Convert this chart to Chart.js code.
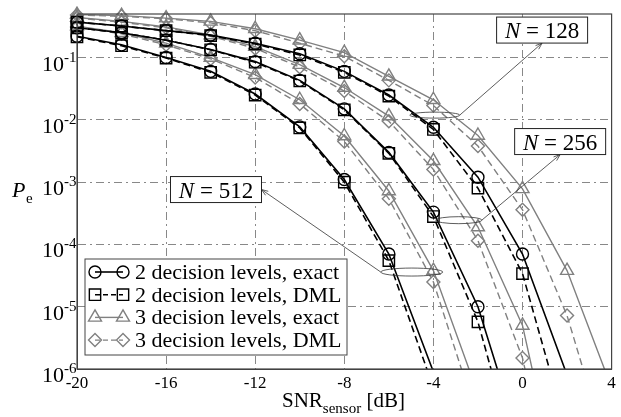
<!DOCTYPE html>
<html>
<head>
<meta charset="utf-8">
<script src="https://cdn.jsdelivr.net/npm/chart.js@4/dist/chart.umd.min.js"></script>
<style>
  html, body { margin: 0; padding: 0; background: #fff; }
  #wrap { width: 621px; height: 417px; }
</style>
</head>
<body>
<div id="wrap"><canvas id="chart" width="621" height="417"></canvas></div>
<script>
// x values (dB) where the curves were sampled
const snr = [-20, -18, -16, -14, -12, -10, -8, -6, -4, -2, 0, 2, 4];
const xTicks = [-20, -16, -12, -8, -4, 0, 4];
const xTickLabels = ['-20', '-16', '-12', '-8', '-4', '0', '4'];
const yTicks = [1e-1, 1e-2, 1e-3, 1e-4, 1e-5, 1e-6];
const yTickExps = ['-1', '-2', '-3', '-4', '-5', '-6'];
const legendLabels = [
  '2 decision levels, exact',
  '2 decision levels, DML',
  '3 decision levels, exact',
  '3 decision levels, DML'
];

// N = 512
const exact2N512 = [0.22, 0.16, 0.10, 0.06, 0.026, 0.0077, 0.0011, 7e-5, 9e-7];
const dml2N512 = [0.215, 0.155, 0.098, 0.058, 0.025, 0.0074, 0.001, 5.5e-5, 5e-7];
const exact3N512 = [0.32, 0.25, 0.17, 0.10, 0.053, 0.021, 0.0055, 7.2e-4, 3.8e-5, 4e-7];
const dml3N512 = [0.31, 0.24, 0.16, 0.095, 0.048, 0.018, 0.0045, 5.4e-4, 2.5e-5, 1.5e-7];
// N = 256
const exact2N256 = [0.30, 0.25, 0.19, 0.135, 0.086, 0.043, 0.015, 0.003, 3.3e-4, 1e-5, 5e-8];
const dml2N256 = [0.30, 0.25, 0.19, 0.133, 0.084, 0.042, 0.0145, 0.0029, 2.8e-4, 5.7e-6, 1.5e-8];
const exact3N256 = [0.44, 0.38, 0.31, 0.23, 0.15, 0.077, 0.033, 0.0115, 0.0022, 1.9e-4, 5e-6, 3e-9];
const dml3N256 = [0.43, 0.37, 0.30, 0.22, 0.14, 0.07, 0.029, 0.0095, 0.0016, 1.15e-4, 1.5e-6, 1e-9];
// N = 128
const exact2N128 = [0.37, 0.32, 0.27, 0.23, 0.17, 0.115, 0.06, 0.025, 0.0076, 0.0012, 7e-5, 8e-7];
const dml2N128 = [0.37, 0.32, 0.27, 0.225, 0.165, 0.11, 0.058, 0.024, 0.007, 8e-4, 3.4e-5, 1e-7];
const exact3N128 = [0.49, 0.47, 0.43, 0.38, 0.29, 0.19, 0.12, 0.05, 0.021, 0.0056, 7.8e-4, 3.8e-5, 5e-7];
const dml3N128 = [0.48, 0.46, 0.42, 0.36, 0.27, 0.17, 0.105, 0.043, 0.017, 0.0038, 3.6e-4, 7.2e-6, 3e-8];

const GRAY = '#808080';
const kinds = [
  { color: '#000', width: 1.6, dash: [], style: 'circle', r: 6 },
  { color: '#000', width: 1.6, dash: [7, 4], style: 'rect', r: 8 },
  { color: GRAY, width: 1.4, dash: [], style: 'triangle', r: 7.5 },
  { color: GRAY, width: 1.4, dash: [7, 4], style: 'rectRot', r: 6.5 }
];

// black curves first so they end up on top
const series = [
  [exact2N512, 0], [dml2N512, 1], [exact2N256, 0], [dml2N256, 1], [exact2N128, 0], [dml2N128, 1],
  [exact3N512, 2], [dml3N512, 3], [exact3N256, 2], [dml3N256, 3], [exact3N128, 2], [dml3N128, 3]
];

// callouts: ellipse centre in data units, box centre in data units
const notes = [
  { label: '128', ell: [-3.94, 0.0119], rx: 25, ry: 3, box: [0.88, 0.276], from: 'right', to: 'bottom' },
  { label: '256', ell: [-2.86, 2.45e-4], rx: 23, ry: 3.5, box: [1.69, 4.48e-3], from: 'right', to: 'bottom' },
  { label: '512', ell: [-4.97, 3.6e-5], rx: 31, ry: 4, box: [-13.76, 7.6e-4], from: 'left', to: 'right' }
];

const SERIF = '"Liberation Serif", "Times New Roman", serif';
const GRID_DASH = [8, 4, 2, 4];

function marker(ctx, k, x, y) {
  ctx.save();
  ctx.strokeStyle = k.color;
  ctx.fillStyle = 'rgba(0,0,0,0)';
  ctx.lineWidth = 1.4;
  ctx.setLineDash([]);
  Chart.helpers.drawPoint(ctx, { pointStyle: k.style, radius: k.r, rotation: 0, borderWidth: 1.4 }, x, y);
  ctx.restore();
}

function arrow(ctx, x1, y1, x2, y2) {
  ctx.beginPath();
  ctx.moveTo(x1, y1);
  ctx.lineTo(x2, y2);
  const a = Math.atan2(y2 - y1, x2 - x1);
  const len = 7;
  ctx.moveTo(x2 - len * Math.cos(a - 0.35), y2 - len * Math.sin(a - 0.35));
  ctx.lineTo(x2, y2);
  ctx.lineTo(x2 - len * Math.cos(a + 0.35), y2 - len * Math.sin(a + 0.35));
  ctx.stroke();
}

const deco = {
  id: 'deco',
  afterDatasetsDraw(chart) {
    const { ctx, chartArea: a, scales: { x, y } } = chart;
    ctx.save();
    ctx.setLineDash([]);

    // frame
    ctx.strokeStyle = '#444';
    ctx.lineWidth = 1.2;
    ctx.strokeRect(a.left, a.top, a.right - a.left, a.bottom - a.top);

    // y tick labels 10^n
    ctx.fillStyle = '#000';
    yTicks.forEach((v, i) => {
      const py = y.getPixelForValue(v);
      ctx.font = '22px ' + SERIF;
      ctx.textAlign = 'right';
      ctx.textBaseline = 'alphabetic';
      ctx.fillText('10', a.left - 13, py + 13);
      ctx.font = '15px ' + SERIF;
      ctx.textAlign = 'left';
      ctx.fillText(yTickExps[i], a.left - 13, py + 4);
    });

    // axis titles
    ctx.textAlign = 'left';
    ctx.font = 'italic 22px ' + SERIF;
    ctx.fillText('P', 12, 197);
    ctx.font = '15px ' + SERIF;
    ctx.fillText('e', 26, 203);

    ctx.font = '21px ' + SERIF;
    let tx = 282;
    ctx.fillText('SNR', tx, 407);
    tx += ctx.measureText('SNR').width;
    ctx.font = '15px ' + SERIF;
    ctx.fillText('sensor', tx, 413);
    tx += ctx.measureText('sensor').width;
    ctx.font = '21px ' + SERIF;
    ctx.fillText(' [dB]', tx, 407);

    // callouts
    ctx.strokeStyle = '#333';
    ctx.lineWidth = 0.8;
    notes.forEach(n => {
      const ex = x.getPixelForValue(n.ell[0]);
      const ey = y.getPixelForValue(n.ell[1]);
      ctx.beginPath();
      ctx.ellipse(ex, ey, n.rx, n.ry, 0, 0, Math.PI * 2);
      ctx.stroke();

      const bx = x.getPixelForValue(n.box[0]);
      const by = y.getPixelForValue(n.box[1]);
      const bw = 91, bh = 26;
      const sx = n.from === 'right' ? ex + n.rx : ex - n.rx;
      const tx2 = n.to === 'bottom' ? bx : bx + bw / 2;
      const ty2 = n.to === 'bottom' ? by + bh / 2 : by;
      arrow(ctx, sx, ey, tx2, ty2);

      ctx.fillStyle = '#fff';
      ctx.fillRect(bx - bw / 2, by - bh / 2, bw, bh);
      ctx.lineWidth = 1;
      ctx.strokeStyle = '#222';
      ctx.strokeRect(bx - bw / 2, by - bh / 2, bw, bh);
      ctx.lineWidth = 0.8;
      ctx.strokeStyle = '#333';

      ctx.fillStyle = '#000';
      ctx.font = 'italic 23px ' + SERIF;
      const wN = ctx.measureText('N').width;
      ctx.font = '23px ' + SERIF;
      const rest = ' = ' + n.label;
      const wR = ctx.measureText(rest).width;
      const x0 = bx - (wN + wR) / 2;
      ctx.font = 'italic 23px ' + SERIF;
      ctx.fillText('N', x0, by + 8);
      ctx.font = '23px ' + SERIF;
      ctx.fillText(rest, x0 + wN, by + 8);
    });

    // legend
    const lx = a.left + 8, ly = a.bottom - 110, lw = 262, lh = 96;
    ctx.fillStyle = '#fff';
    ctx.fillRect(lx, ly, lw, lh);
    ctx.strokeStyle = '#444';
    ctx.lineWidth = 1;
    ctx.strokeRect(lx, ly, lw, lh);
    legendLabels.forEach((t, i) => {
      const k = kinds[i];
      const ry = ly + 13 + i * 22.7;
      ctx.save();
      ctx.strokeStyle = k.color;
      ctx.lineWidth = k.width;
      ctx.setLineDash(k.dash.length ? [5, 3] : []);
      ctx.beginPath();
      ctx.moveTo(lx + 10, ry);
      ctx.lineTo(lx + 38, ry);
      ctx.stroke();
      ctx.restore();
      marker(ctx, k, lx + 10, ry);
      marker(ctx, k, lx + 38, ry);
      ctx.fillStyle = '#000';
      ctx.font = '22px ' + SERIF;
      ctx.textAlign = 'left';
      ctx.fillText(t, lx + 50, ry + 7);
    });

    ctx.restore();
  }
};

const datasets = series.map(([vals, ki]) => {
  const k = kinds[ki];
  return {
    data: vals.map((v, i) => ({ x: snr[i], y: v })),
    borderColor: k.color,
    borderWidth: k.width,
    borderDash: k.dash,
    pointStyle: k.style,
    pointRadius: c => (c.raw && c.raw.y < 1e-6 ? 0 : k.r),
    pointBorderColor: k.color,
    pointBorderWidth: 1.4,
    pointBackgroundColor: 'rgba(0,0,0,0)',
    fill: false,
    tension: 0,
    clip: { left: 8, top: 8, right: 0, bottom: 0 }
  };
});

new Chart(document.getElementById('chart'), {
  type: 'line',
  data: { datasets },
  options: {
    responsive: false,
    animation: false,
    events: [],
    layout: { padding: { left: 0, right: 9, top: 14, bottom: 0 } },
    plugins: { legend: { display: false }, tooltip: { enabled: false } },
    scales: {
      x: {
        type: 'linear',
        min: -20,
        max: 4,
        afterBuildTicks: axis => { axis.ticks = xTicks.map(v => ({ value: v })); },
        afterFit: axis => { axis.height = 48; },
        ticks: {
          padding: 4,
          color: '#000',
          font: { family: SERIF, size: 17 },
          callback: v => xTickLabels[xTicks.indexOf(v)]
        },
        grid: { color: '#888', lineWidth: 1, drawTicks: false },
        border: { display: true, color: '#444', width: 1, dash: GRID_DASH }
      },
      y: {
        type: 'logarithmic',
        min: 1e-6,
        max: 0.5,
        afterBuildTicks: axis => { axis.ticks = yTicks.map(v => ({ value: v })); },
        afterFit: axis => { axis.width = 77; },
        ticks: { display: false },
        grid: { color: '#888', lineWidth: 1, drawTicks: false },
        border: { display: true, color: '#444', width: 1, dash: GRID_DASH }
      }
    }
  },
  plugins: [deco]
});
</script>
</body>
</html>
